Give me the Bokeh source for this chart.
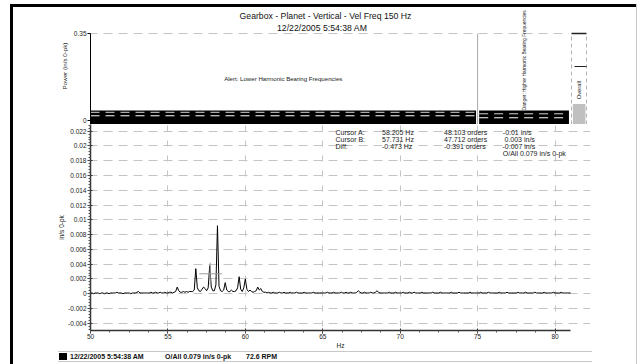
import numpy as np
from math import pi
from bokeh.plotting import figure
from bokeh.layouts import row, column
from bokeh.models import (Range1d, Label, Title, FixedTicker,
                          NumeralTickFormatter, Div, Spacer)
from bokeh.embed import file_html
from bokeh.resources import INLINE

FONT = "Liberation Sans"

# ---------------- data ----------------
title_text = "Gearbox - Planet - Vertical - Vel Freq 150 Hz"
date_text = "12/22/2005 5:54:38 AM"

freq_start = 50.0
freq_step = 0.1
# spectrum amplitude, units of 1e-4 in/s 0-pk, 50.0 .. 81.0 Hz
amplitude_1e4 = [
    1, 1, 0, 1, 1, 1, 0, 1, 1, 0,      # 50
    1, 1, 0, 1, 1, 1, 1, 2, 1, 1,      # 51
    1, 0, 1, 1, 1, 1, 0, 1, 1, 1,      # 52
    2, 3, 1, 1, 1, 1, 1, 1, 1, 2,      # 53
    1, 1, 2, 1, 1, 2, 1, 1, 2, 1,      # 54
    1, 2, 2, 1, 2, 3, 9, 4, 2, 2,      # 55
    3, 2, 3, 2, 3, 3, 3, 5, 34, 8,     # 56
    4, 3, 6, 9, 7, 4, 8, 38, 9, 4,     # 57
    4, 12, 92, 10, 4, 3, 5, 15, 5, 3,  # 58
    3, 5, 3, 3, 4, 8, 23, 6, 3, 8,     # 59
    20, 6, 3, 5, 3, 2, 3, 4, 9, 5,     # 60
    7, 3, 2, 2, 1, 2, 1, 1, 2, 1,      # 61
    1, 1, 2, 1, 1, 2, 1, 1, 1, 2,      # 62
    1, 1, 1, 2, 1, 1, 1, 1, 2, 1,      # 63
    1, 1, 1, 1, 2, 1, 1, 1, 1, 1,      # 64
    1, 1, 1, 2, 1, 1, 1, 2, 1, 1,      # 65
    1, 1, 2, 1, 1, 2, 1, 1, 2, 1,      # 66
    1, 1, 2, 4, 2, 1, 1, 2, 1, 1,      # 67
    1, 2, 1, 1, 2, 4, 2, 1, 1, 1,      # 68
    1, 1, 1, 2, 1, 1, 1, 2, 1, 1,      # 69
    1, 1, 2, 1, 1, 1, 2, 1, 1, 2,      # 70
    1, 1, 1, 1, 2, 1, 1, 1, 1, 1,      # 71
    1, 2, 1, 1, 1, 1, 2, 1, 1, 1,      # 72
    1, 1, 1, 2, 1, 1, 1, 1, 2, 1,      # 73
    1, 1, 1, 1, 1, 2, 1, 1, 1, 1,      # 74
    1, 1, 2, 1, 1, 1, 1, 2, 1, 1,      # 75
    1, 1, 1, 1, 2, 1, 1, 1, 1, 2,      # 76
    1, 1, 1, 1, 1, 1, 2, 1, 1, 1,      # 77
    1, 2, 1, 1, 1, 1, 1, 2, 1, 1,      # 78
    1, 1, 1, 2, 1, 1, 1, 1, 1, 2,      # 79
    1, 1, 1, 1, 2, 1, 1, 1, 1, 1,      # 80
    1,                                 # 81
]

x_ticks = [50, 55, 60, 65, 70, 75, 80]
y_ticks = [-0.004, -0.002, 0, 0.002, 0.004, 0.006, 0.008, 0.01, 0.012,
           0.014, 0.016, 0.018, 0.02, 0.022]
power_ticks = [0, 0.35]

band_names = ["Alert: Lower Harmonic Bearing Frequencies",
              "Danger: Higher Harmonic Bearing Frequencies"]
band_left = [50.0, 75.1]
band_right = [74.9, 80.9]
band_power = [0.040, 0.040]
band_alarm_hi = [0.033, 0.027]
band_alarm_lo = [0.019, 0.011]
band_divider = 75.0

overall_value = 0.079
overall_alert = 0.223
overall_danger = 0.35

cursor_names = ["Cursor A:", "Cursor B:", "Diff:"]
cursor_hz = [58.205, 57.731, -0.473]
cursor_orders = [48.103, 47.712, -0.391]
cursor_amp = [-0.01, 0.003, -0.007]
rpm = 72.6

freq = freq_start + freq_step * np.arange(len(amplitude_1e4))
amp = np.array(amplitude_1e4, dtype=float) * 1e-4

# ---------------- geometry (page pixels) ----------------
X0, X1 = 50.0, 81.0
FL, FR = 90, 570          # pixel of 50 Hz and 81 Hz
FRAME_R = 590             # right edge of both frames


def bx(px):
    return X0 + (px - FL) * (X1 - X0) / (FR - FL)


t_scale = 0.35 / 87.0     # top panel: 0 at y=120, 0.35 at y=33, frame y 7..124
t_y0 = -(124 - 120) * t_scale
t_y1 = 0.35 + (33 - 7) * t_scale


def ty(py):
    return 0.35 - (py - 33) * t_scale


b_per_px = 0.002 / 15.0   # bottom frame y 124..333, 0 at y=295.7
b_y1 = (295.7 - 124) * b_per_px
b_y0 = -(333 - 295.7) * b_per_px


def by(py):
    return b_y1 - (py - 124) * b_per_px


GRID = "#c4c4c4"
TXT = "#222222"
xr = Range1d(X0, bx(FRAME_R))

# ---------------- top: band power panel (+ overall bar) ----------------
pt = figure(width=623, height=117, x_range=xr, y_range=Range1d(t_y0, t_y1),
            output_backend="svg", toolbar_location=None,
            x_axis_location=None, y_axis_location="left",
            min_border_left=77, min_border_right=636 - FRAME_R,
            min_border_top=0, min_border_bottom=0, outline_line_color=None)
pt.grid.visible = False
ya = pt.yaxis[0]
ya.ticker = FixedTicker(ticks=power_ticks, minor_ticks=[])
ya.formatter = NumeralTickFormatter(format="0.[00]")
ya.bounds = (t_y0, 0.35)
ya.axis_line_color = "black"
ya.major_tick_line_color = "black"
ya.major_tick_out = 3
ya.major_tick_in = 0
ya.major_label_standoff = 1
ya.major_label_text_font = FONT
ya.major_label_text_font_size = "6.5px"
ya.major_label_text_color = TXT

pt.add_layout(Title(text="Power (in/s 0-pk)", align="center", offset=-13,
                    standoff=6, text_font=FONT, text_font_size="6.2px",
                    text_font_style="normal", text_color=TXT), "left")

pt.segment(x0=band_left[0], x1=band_right[1], y0=0.35, y1=0.35,
           line_color=GRID, line_dash="9 6", line_dash_offset=2, line_width=1)
pt.segment(x0=band_divider, y0=t_y0, x1=band_divider, y1=0.35,
           line_color="#a8a8a8", line_width=1)
pt.quad(left=band_left, right=band_right, bottom=t_y0, top=band_power,
        fill_color="black", line_color=None)
pt.segment(x0=band_left, x1=band_right, y0=band_alarm_hi, y1=band_alarm_hi,
           line_color="#d4d4d4", line_dash="9 6", line_width=1)
pt.segment(x0=band_left, x1=band_right, y0=band_alarm_lo, y1=band_alarm_lo,
           line_color="white", line_dash="9 6", line_width=1)

pt.add_layout(Label(x=bx(325), y=ty(15.5), text=title_text,
                    text_align="center", text_baseline="middle",
                    text_font=FONT, text_font_size="8.7px", text_color="#111111"))
pt.add_layout(Label(x=bx(321.7), y=ty(27), text=date_text,
                    text_align="center", text_baseline="middle",
                    text_font=FONT, text_font_size="8.7px", text_color="#111111"))
pt.add_layout(Label(x=(band_left[0] + band_right[0]) / 2, y=ty(78),
                    text=band_names[0], text_align="center",
                    text_baseline="middle", text_font=FONT,
                    text_font_size="6.1px", text_color=TXT))
pt.add_layout(Label(x=(band_divider + X1) / 2, y=band_power[1] + 0.001,
                    text=band_names[1], angle=pi / 2, text_align="left",
                    text_baseline="middle", text_font=FONT,
                    text_font_size="4.8px", text_color=TXT))

# overall bar, own scales inside the same frame
pt.extra_x_ranges = {"ov": Range1d((FL - 571) / 15.0, (FRAME_R - 571) / 15.0)}
pt.extra_y_ranges = {"ovy": Range1d(0, 0.35 * 117 / 91.0)}
pt.segment(x0=[0, 1], x1=[0, 1], y0=[0, 0], y1=[0.35, 0.35],
           line_color="#b4b4b4", line_dash="4 3", line_width=1,
           x_range_name="ov", y_range_name="ovy")
pt.quad(left=0.09, right=0.93, bottom=0, top=overall_value,
        fill_color="#c0c0c0", line_color=None,
        x_range_name="ov", y_range_name="ovy")
pt.segment(x0=0, x1=1, y0=overall_danger, y1=overall_danger,
           line_color="#222222", line_width=1.5,
           x_range_name="ov", y_range_name="ovy")
pt.segment(x0=0.2, x1=1, y0=overall_alert, y1=overall_alert,
           line_color="#222222", line_width=1.2,
           x_range_name="ov", y_range_name="ovy")
pt.add_layout(Label(x=0.5, y=0.132, text="Overall", angle=pi / 2,
                    x_range_name="ov", y_range_name="ovy",
                    text_align="center", text_baseline="middle",
                    text_font=FONT, text_font_size="5.8px", text_color=TXT))

# ---------------- bottom: spectrum ----------------
pb = figure(width=623, height=227, x_range=xr, y_range=Range1d(b_y0, b_y1),
            output_backend="svg", toolbar_location=None,
            min_border_left=77, min_border_right=636 - FRAME_R,
            min_border_top=0, min_border_bottom=18, outline_line_color=None)

xt = FixedTicker(ticks=x_ticks, minor_ticks=list(np.arange(50, 81.01, 1.25)))
yt = FixedTicker(ticks=y_ticks, minor_ticks=list(np.arange(-0.0048, 0.0229, 0.0004)))
pb.xaxis.ticker = xt
pb.yaxis.ticker = yt
pb.xgrid.ticker = xt
pb.ygrid.ticker = yt
pb.xaxis.bounds = (X0, X1)
pb.yaxis.formatter = NumeralTickFormatter(format="0.[000]")
for ax in (pb.xaxis[0], pb.yaxis[0]):
    ax.axis_line_color = "#333333"
    ax.axis_line_width = 1.5
    ax.major_tick_line_color = "#333333"
    ax.minor_tick_line_color = "#555555"
    ax.major_tick_out = 3
    ax.major_tick_in = 2
    ax.minor_tick_out = 2
    ax.minor_tick_in = 0
    ax.major_label_text_font = FONT
    ax.major_label_text_font_size = "6.5px"
    ax.major_label_text_color = TXT
    ax.axis_label_text_font = FONT
    ax.axis_label_text_font_size = "6.5px"
    ax.axis_label_text_font_style = "normal"
    ax.axis_label_text_color = TXT
    ax.axis_label_standoff = 0
pb.xaxis.major_label_standoff = 0
pb.yaxis.major_label_standoff = 1
pb.xaxis.axis_label = "Hz"
pb.yaxis.axis_label = "in/s 0-pk"

pb.xgrid.grid_line_color = GRID
pb.xgrid.grid_line_dash = "6 9"
pb.xgrid.grid_line_dash_offset = 11
pb.ygrid.grid_line_color = GRID
pb.ygrid.grid_line_dash = "9 6"
pb.ygrid.grid_line_dash_offset = 2

pb.line(freq, amp, line_color="black", line_width=1)

cb = cursor_hz[1]
pb.segment(x0=[cb - 0.7, cb], y0=[0.0027, 0.0012],
           x1=[cb + 0.75, cb], y1=[0.0027, 0.0042],
           line_color="#9a9a9a", line_width=1)

# cursor readout
rows_y = [132, 139.5, 146.5, 153.5]
col4_x = [502.3, 504, 502]
for i in range(3):
    yy = by(rows_y[i])
    for xx, txt in ((335, cursor_names[i]),
                    (381.5, f"{cursor_hz[i]:.3f} Hz"),
                    (443.5, f"{cursor_orders[i]:.3f} orders"),
                    (col4_x[i], f"{cursor_amp[i]:g} in/s")):
        pb.add_layout(Label(x=bx(xx), y=yy, text=txt, text_align="left",
                            text_baseline="middle", text_font=FONT,
                            text_font_size="7px", text_color=TXT))
overall_text = f"O/All {overall_value:g} in/s 0-pk"
pb.add_layout(Label(x=bx(502.3), y=by(rows_y[3]), text=overall_text,
                    text_align="left", text_baseline="middle", text_font=FONT,
                    text_font_size="7px", text_color=TXT))

# ---------------- footer strip ----------------
footer_html = (
    '<div style="position:relative;width:623px;height:13px;'
    "font-family:'Liberation Sans',Arial,sans-serif;font-size:7px;"
    'font-weight:bold;color:#111111;">'
    '<div style="position:absolute;left:45px;top:0px;width:534px;height:9px;'
    'box-sizing:content-box;border-top:1px solid #c8c8c8;'
    'border-bottom:1px solid #c8c8c8;"></div>'
    '<div style="position:absolute;left:46px;top:2px;width:8px;height:7px;'
    'background:#000000;"></div>'
    f'<span style="position:absolute;left:57px;top:1px;line-height:9px;'
    f'white-space:nowrap;">{date_text}</span>'
    f'<span style="position:absolute;left:152px;top:1px;line-height:9px;'
    f'white-space:nowrap;">{overall_text}</span>'
    f'<span style="position:absolute;left:233px;top:1px;line-height:9px;'
    f'white-space:nowrap;">{rpm:g} RPM</span>'
    '</div>'
)
footer = Div(text=footer_html, width=623, height=13, margin=0)

# ---------------- page frame & layout ----------------
top_gap = Spacer(width=637, height=4, margin=0)
left_gap = Spacer(width=10, height=360, margin=0)
left_bar = Div(text="", width=3, height=360, margin=0,
               styles={"background-color": "black"})
top_bar = Div(text="", width=623, height=3, margin=0,
              styles={"background-color": "black"})
right_bar = Div(text="", width=1, height=360, margin=0,
                styles={"background-color": "#c8c8c8"})

layout = column(top_gap,
                row(left_gap, left_bar,
                    column(top_bar, pt, pb, footer),
                    right_bar))

open("out.html", "w").write(file_html(layout, INLINE))
